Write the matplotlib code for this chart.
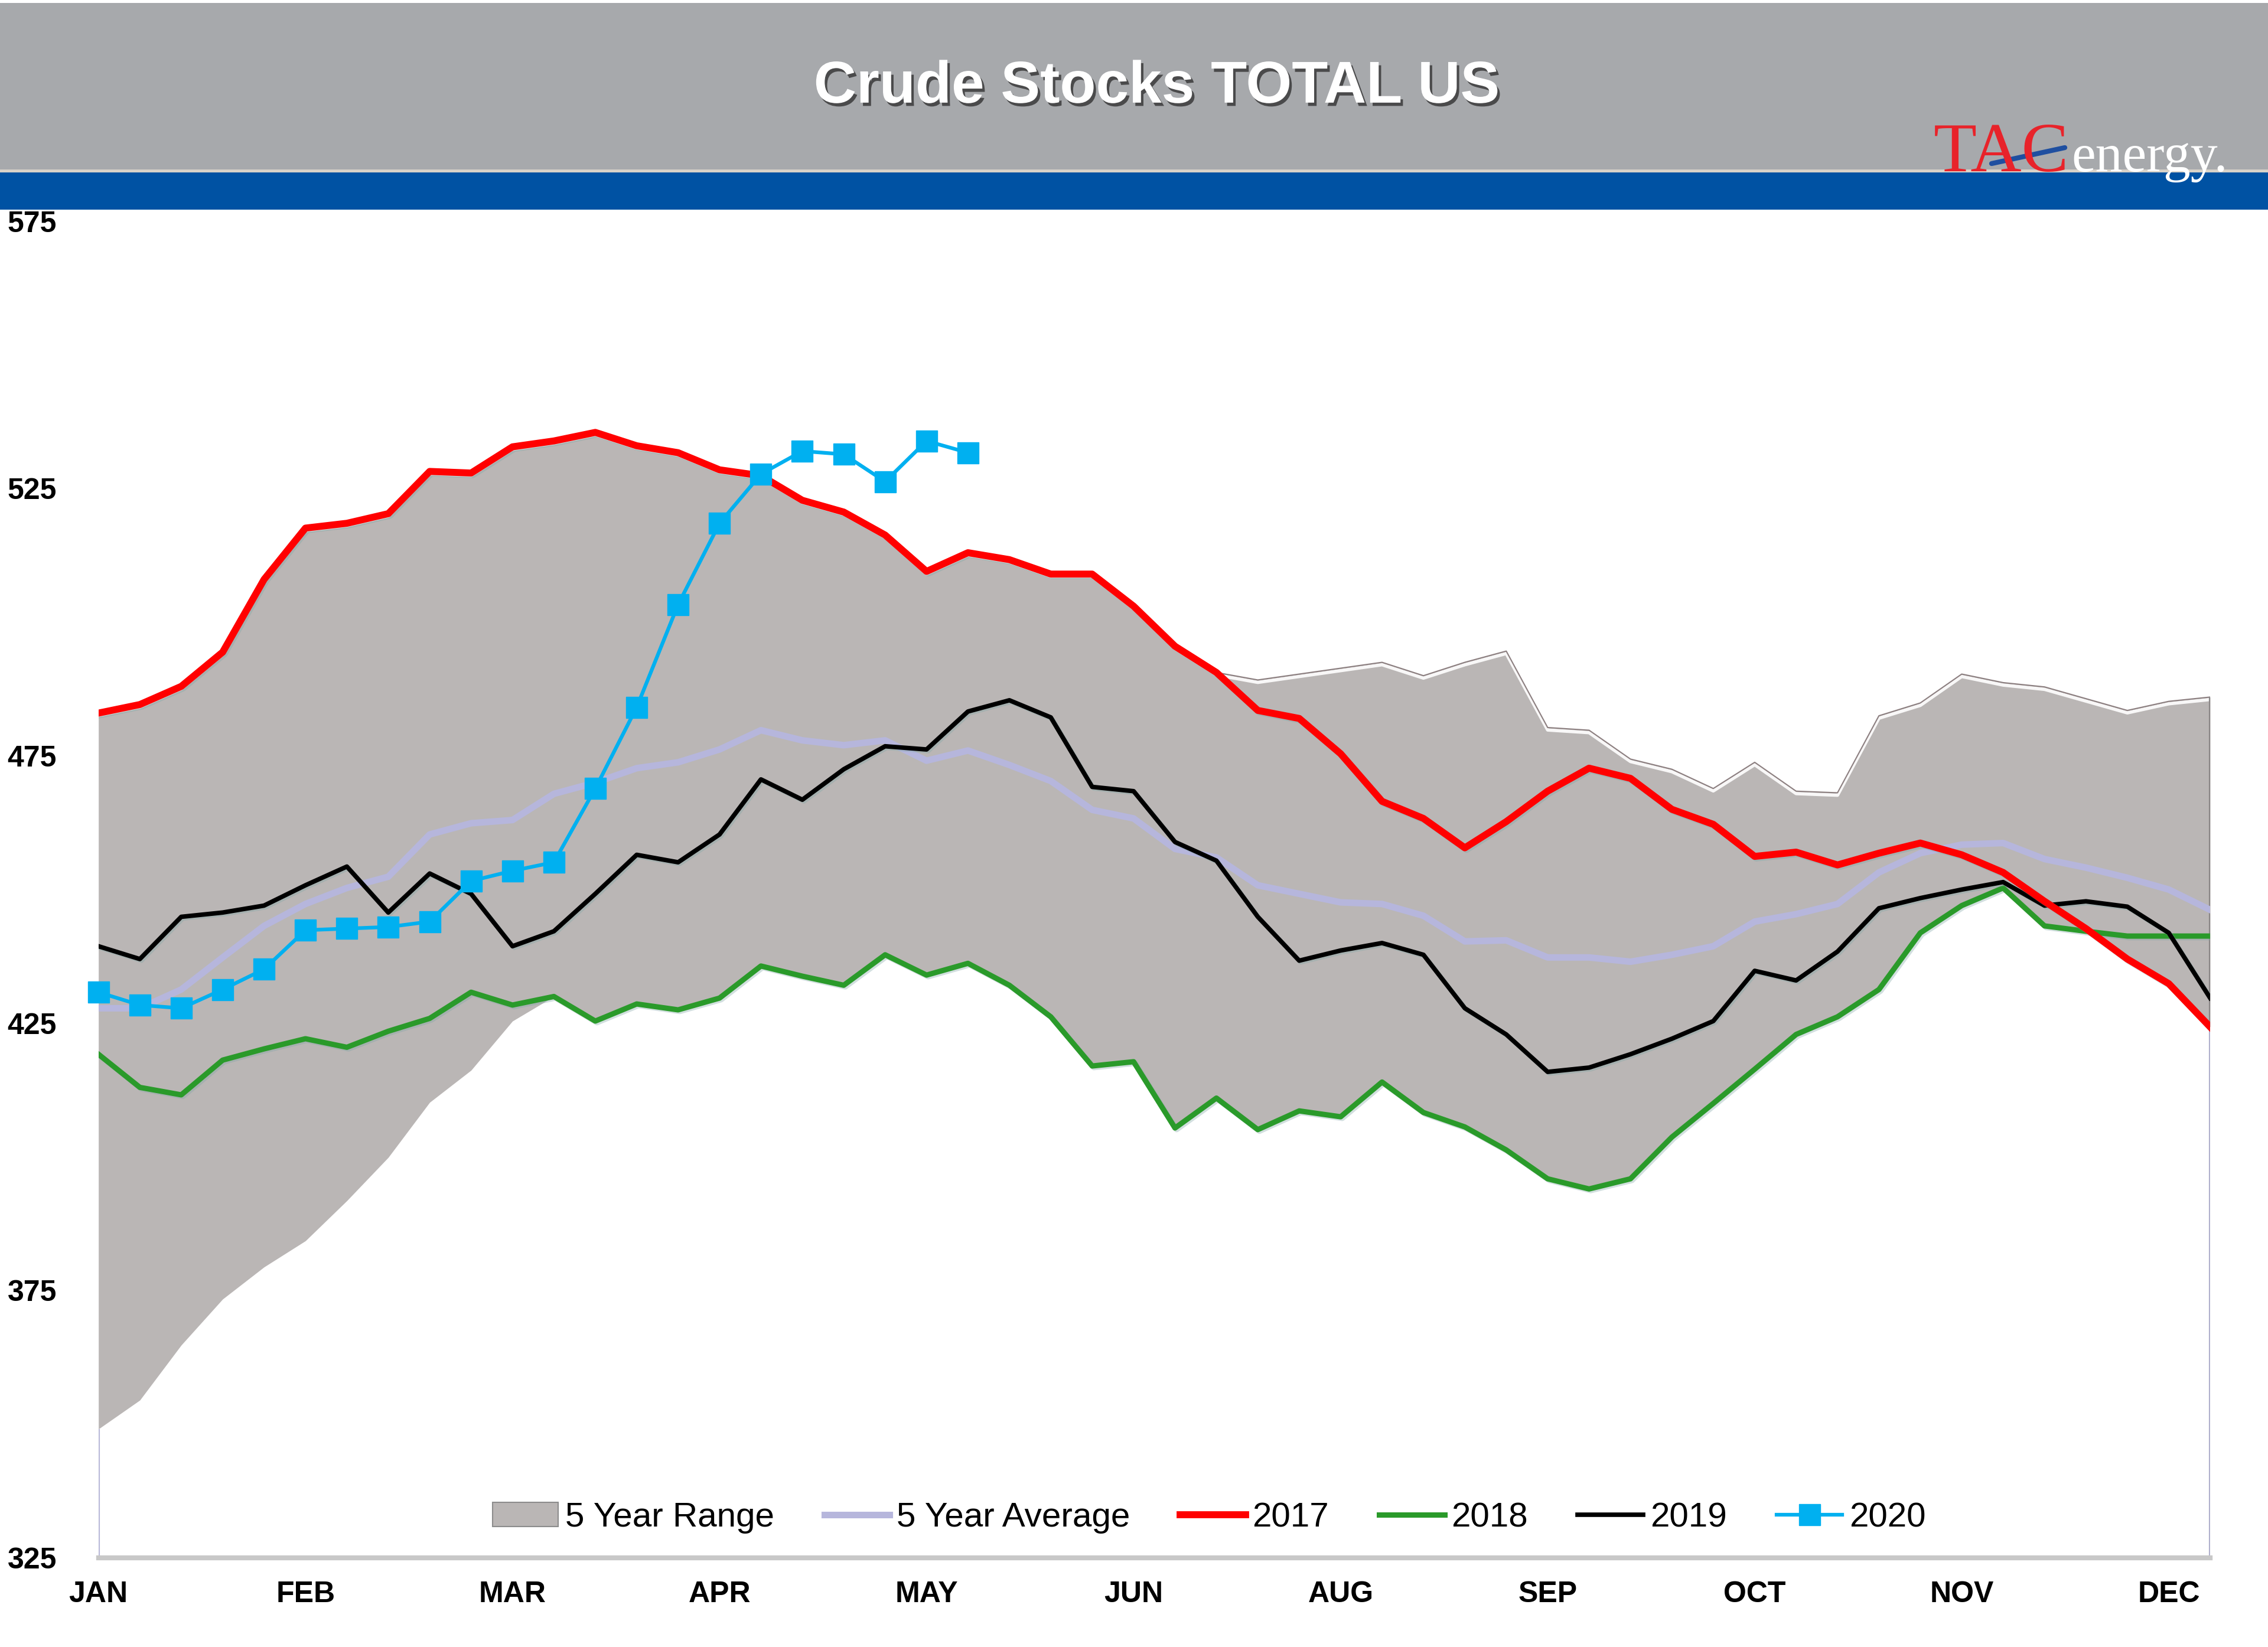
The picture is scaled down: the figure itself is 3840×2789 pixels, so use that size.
import numpy as np
import matplotlib
matplotlib.use('Agg')
import matplotlib.pyplot as plt
import matplotlib.patheffects as pe
from matplotlib.patches import Rectangle, Patch
from matplotlib.lines import Line2D

plt.rcParams['font.family'] = ['Liberation Sans', 'DejaVu Sans']

# weekly crude stocks, million barrels
weeks = np.arange(52)
month_ticks = [0, 5, 10, 15, 20, 25, 30, 35, 40, 45, 50]
month_labels = ['JAN', 'FEB', 'MAR', 'APR', 'MAY', 'JUN', 'AUG', 'SEP', 'OCT', 'NOV', 'DEC']

s2017 = [483, 484.6, 488, 494.4, 508, 517.6, 518.5, 520.3, 528.2, 527.9,
         532.8, 533.9, 535.5, 533, 531.7, 528.5, 527.4, 522.8, 520.6, 516.3,
         509.5, 513, 511.7, 509, 509, 503, 495.5, 490.6, 483.5, 482,
         475.4, 466.5, 463.3, 457.8, 462.7, 468.4, 472.7, 470.8, 465, 462.2,
         456.2, 457, 454.6, 456.8, 458.7, 456.5, 453.2, 447.8, 442.7, 437,
         432.4, 424.3]
s2018 = [419.2, 413, 411.6, 418.1, 420.2, 422.1, 420.5, 423.5, 425.9, 430.8,
         428.4, 430, 425.4, 428.6, 427.5, 429.7, 435.7, 433.8, 432.1, 437.8,
         434, 436.2, 432.1, 426.2, 417, 417.8, 405.4, 411, 405.1, 408.6,
         407.5, 414, 408.3, 405.6, 401.3, 395.9, 394, 395.9, 403.7, 410,
         416.4, 422.9, 426.2, 431.3, 441.9, 447, 450.3, 443.2, 442.2, 441.3,
         441.3, 441.3]
s2019 = [439.4, 437, 444.9, 445.7, 447, 450.8, 454.3, 445.7, 453, 449.2,
         439.4, 442.2, 449.2, 456.5, 455.1, 460.3, 470.6, 466.8, 472.5, 476.8,
         476.2, 483.3, 485.4, 482.2, 469.2, 468.4, 458.9, 455.4, 444.9, 436.7,
         438.6, 440, 437.8, 427.8, 422.9, 415.9, 416.7, 419.2, 422.1, 425.4,
         434.8, 433, 438.4, 446.5, 448.4, 450, 451.4, 447, 447.8, 446.8,
         441.9, 429.7]
s2020 = [430.8, 428.4, 427.8, 431.3, 435.1, 442.4, 442.7, 443, 444, 451.6,
         453.5, 455.1, 468.9, 484.1, 503.3, 518.5, 527.7, 532, 531.4, 526.3,
         533.9, 531.7]
avg5 = [427.8, 427.8, 431.3, 437.3, 443.2, 447.3, 450.3, 452.4, 460.3, 462.4,
        463, 467.9, 470, 472.7, 473.8, 476.2, 479.8, 477.9, 477, 477.9,
        474.1, 476, 473.3, 470.3, 464.9, 463.3, 457.6, 456, 450.8, 449.2,
        447.6, 447.3, 445.1, 440.3, 440.5, 437.3, 437.3, 436.5, 437.8, 439.4,
        444, 445.4, 447.3, 453.2, 456.8, 458.4, 458.7, 455.7, 454.1, 452.2,
        450, 446.2]
range_high = [483, 484.6, 488, 494.4, 508, 517.6, 518.5, 520.3, 528.2, 527.9,
              532.8, 533.9, 535.5, 533, 531.7, 528.5, 527.4, 522.8, 520.6, 516.3,
              509.5, 513, 511.7, 509, 509, 503, 495.5, 490.6, 489.2, 490.3,
              491.4, 492.5, 490, 492.5, 494.6, 480.3, 479.8, 474.4, 472.5, 468.9,
              473.8, 468.4, 468.1, 482.5, 484.9, 490.3, 488.7, 487.9, 485.7, 483.5,
              485.2, 486]
range_low = [349.1, 354.5, 364.8, 373.4, 379.4, 384.3, 391.8, 399.9, 410.2, 416.2,
             425.4, 430, 425.4, 428.6, 427.5, 429.7, 435.7, 433.8, 432.1, 437.8,
             434, 436.2, 432.1, 426.2, 417, 417.8, 405.4, 411, 405.1, 408.6,
             407.5, 414, 408.3, 405.6, 401.3, 395.9, 394, 395.9, 403.7, 410,
             416.4, 422.9, 426.2, 431.3, 441.9, 447, 450.3, 443.2, 442.2, 437,
             432.4, 424.3]

fig = plt.figure(figsize=(38.4, 27.89), dpi=100)

# header bands
fig.patches.append(Rectangle((0, 1 - 287 / 2789), 1, 282 / 2789, transform=fig.transFigure,
                             facecolor='#a7a9ac', edgecolor='none', zorder=0))
fig.patches.append(Rectangle((0, 1 - 292 / 2789), 1, 5 / 2789, transform=fig.transFigure,
                             facecolor='#d8d2c8', edgecolor='none', zorder=0))
fig.patches.append(Rectangle((0, 1 - 355 / 2789), 1, 63 / 2789, transform=fig.transFigure,
                             facecolor='#0052a3', edgecolor='none', zorder=0))

fig.text(0.510, 0.947, 'Crude Stocks TOTAL US', color='white', fontsize=72, fontweight='bold',
         ha='center', va='center',
         path_effects=[pe.withSimplePatchShadow(offset=(3, -4), shadow_rgbFace='#333333', alpha=0.8)])

# logo
fig.text(0.8525, 1 - 290 / 2789, 'TAC', color='#e8232a', fontsize=86, family='Liberation Serif',
         ha='left', va='baseline')
fig.text(0.9135, 1 - 290 / 2789, 'energy.', color='white', fontsize=66, family='Liberation Serif',
         ha='left', va='baseline')
fig.lines.append(Line2D([3372 / 3840, 3496 / 3840], [1 - 277 / 2789, 1 - 250 / 2789],
                        transform=fig.transFigure, color='#1f4fa0', lw=6, solid_capstyle='round'))

ax = fig.add_axes([0.0434, 0.0541, 0.9311, 0.8116])
ax.set_xlim(0, 51)
ax.set_ylim(325, 575)

fill_col = '#bab6b5'
ax.fill_between(weeks, range_low, range_high, color=fill_col, lw=0, zorder=1)
ax.plot(weeks, range_high, color='#8c7f80', lw=1.5, zorder=2,
        path_effects=[pe.SimpleLineShadow(offset=(0, -3), shadow_color='white', alpha=0.9, linewidth=4),
                      pe.Normal()])
# plot-area edges only below / beside the band, like the original
ax.vlines(0, 325, range_low[0], color='#b8b8d8', lw=3, zorder=2)
ax.vlines(51, 325, range_low[-1], color='#b0b0cc', lw=3, zorder=2)
ax.vlines(51, range_low[-1], range_high[-1], color='#8a8686', lw=3, zorder=2)

shadow = [pe.SimpleLineShadow(offset=(2, -2), shadow_color='#7fa6a6', alpha=0.35), pe.Normal()]
ax.plot(weeks, avg5, color='#b6b6dc', lw=8, zorder=3, solid_joinstyle='round')
ax.plot(weeks, s2018, color='#2a9a2a', lw=6.5, zorder=4, path_effects=shadow)
ax.plot(weeks, s2019, color='black', lw=5.5, zorder=5, path_effects=shadow)
ax.plot(weeks, s2017, color='#ff0000', lw=8.5, zorder=6, path_effects=shadow)
ax.plot(weeks[:len(s2020)], s2020, color='#00b0f0', lw=4.5, marker='s', markersize=26,
        zorder=7, clip_on=False)

for side in ['top', 'left', 'right']:
    ax.spines[side].set_visible(False)
ax.spines['bottom'].set_color('#c8c8c8')
ax.spines['bottom'].set_linewidth(6)

ax.set_yticks([325, 375, 425, 475, 525, 575])
ax.set_xticks(month_ticks)
ax.set_xticklabels(month_labels)
ax.tick_params(axis='both', length=0, labelsize=36)
ax.tick_params(axis='y', pad=111)
ax.tick_params(axis='x', pad=28)
for lab in ax.get_yticklabels():
    lab.set_ha('left')
    lab.set_fontweight('bold')
for lab in ax.get_xticklabels():
    lab.set_fontweight('bold')

handles = [Patch(facecolor=fill_col, edgecolor='#8c8c8c', lw=1.5),
           Line2D([], [], color='#b6b6dc', lw=8),
           Line2D([], [], color='#ff0000', lw=8.5),
           Line2D([], [], color='#2a9a2a', lw=6.5),
           Line2D([], [], color='black', lw=5.5),
           Line2D([], [], color='#00b0f0', lw=4.5, marker='s', markersize=26)]
labels = ['5 Year Range', '5 Year Average', '2017', '2018', '2019', '2020']
ax.legend(handles, labels, loc='center', bbox_to_anchor=(0.526, 0.030), ncol=6, frameon=False,
          fontsize=42, handlelength=1.9, handletextpad=0.2, columnspacing=1.45)

fig.savefig('out.png', dpi=100)
